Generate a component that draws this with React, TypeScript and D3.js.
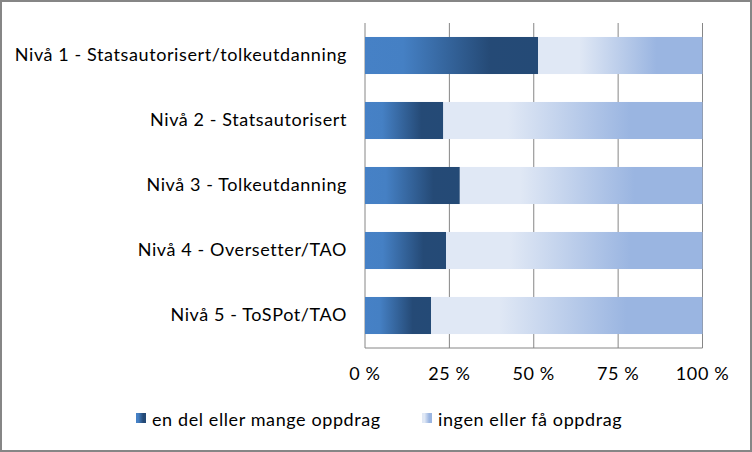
import React from "react";
import * as d3 from "d3";

const categories = [
  "Nivå 1 - Statsautorisert/tolkeutdanning",
  "Nivå 2 - Statsautorisert",
  "Nivå 3 - Tolkeutdanning",
  "Nivå 4 - Oversetter/TAO",
  "Nivå 5 - ToSPot/TAO",
];
const manyValues = [0.513, 0.232, 0.281, 0.24, 0.196];
const seriesNames = ["en del eller mange oppdrag", "ingen eller få oppdrag"];
const tickValues = [0, 0.25, 0.5, 0.75, 1];
const tickLabels = ["0 %", "25 %", "50 %", "75 %", "100 %"];

const W = 752;
const H = 452;
const FONT = "Lato, 'Open Sans', sans-serif";
const FS = 18;
const LS = 0.6;

export default function App() {
  const x = d3.scaleLinear().domain([0, 1]).range([365, 702.5]);
  const y = d3.scaleBand().domain(categories).range([23, 348]).paddingInner(0.43).paddingOuter(0.215);
  const grid = "#868686";
  return (
    <svg width={W} height={H} style={{ position: "absolute", left: 0, top: 0 }} fontFamily={FONT} letterSpacing={LS}>
      <defs>
        <linearGradient id="gDark" x1="0" x2="1" y1="0" y2="0">
          <stop offset="0" stopColor="#4681c6" />
          <stop offset="0.22" stopColor="#4580c4" />
          <stop offset="0.72" stopColor="#254a76" />
          <stop offset="1" stopColor="#244a76" />
        </linearGradient>
        <linearGradient id="gLight" x1="0" x2="1" y1="0" y2="0">
          <stop offset="0" stopColor="#e0e8f5" />
          <stop offset="0.25" stopColor="#e0e8f5" />
          <stop offset="0.72" stopColor="#9ab5e1" />
          <stop offset="1" stopColor="#9ab5e1" />
        </linearGradient>
      </defs>
      <rect x={0} y={0} width={W} height={H} fill="#fff" />
      {tickValues.map((t) => (
        <line key={t} x1={x(t)} x2={x(t)} y1={23} y2={348} stroke={grid} strokeWidth={1} />
      ))}
      {categories.map((c, i) => (
        <g key={c}>
          <rect x={x(0)} y={y(c)} width={x(manyValues[i]) - x(0)} height={y.bandwidth()} fill="url(#gDark)" />
          <rect x={x(manyValues[i])} y={y(c)} width={x(1) - x(manyValues[i])} height={y.bandwidth()} fill="url(#gLight)" />
          <text x={347} y={(y(c) as number) + y.bandwidth() / 2 + 5.5} textAnchor="end" fontSize={FS} fill="#000">
            {c}
          </text>
        </g>
      ))}
      <line x1={x(0)} x2={x(1)} y1={348} y2={348} stroke={grid} />
      {tickValues.map((t, i) => (
        <text key={t} x={x(t)} y={380} textAnchor="middle" fontSize={FS} fill="#000">
          {tickLabels[i]}
        </text>
      ))}
      <rect x={136} y={413} width={10} height={10} fill="url(#gDark)" />
      <text x={152} y={426} fontSize={FS} fill="#000">{seriesNames[0]}</text>
      <rect x={422} y={413} width={10} height={10} fill="url(#gLight)" />
      <text x={438} y={426} fontSize={FS} fill="#000">{seriesNames[1]}</text>
      <rect x={1} y={1} width={W - 2} height={H - 2} fill="none" stroke={grid} strokeWidth={2} />
    </svg>
  );
}
